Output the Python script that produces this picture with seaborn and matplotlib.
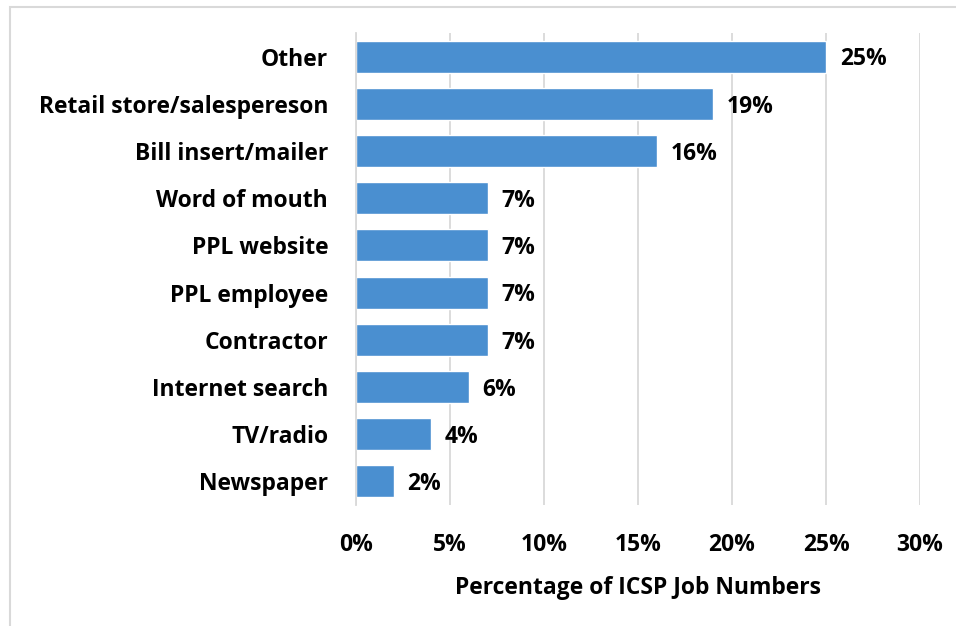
import matplotlib
matplotlib.use("Agg")
import matplotlib.pyplot as plt
from matplotlib.patches import Rectangle
import seaborn as sns
import pandas as pd

categories = ["Other", "Retail store/salespereson", "Bill insert/mailer", "Word of mouth",
              "PPL website", "PPL employee", "Contractor", "Internet search",
              "TV/radio", "Newspaper"]
values = [25, 19, 16, 7, 7, 7, 7, 6, 4, 2]
xticks = [0, 5, 10, 15, 20, 25, 30]
xlabel = "Percentage of ICSP Job Numbers"

sns.set_theme(style="white")
plt.rcParams["font.family"] = ["Open Sans", "DejaVu Sans"]
plt.rcParams["font.weight"] = "bold"

FS = 16.5

df = pd.DataFrame({"source": categories, "pct": values})

fig = plt.figure(figsize=(9.56, 6.26), dpi=100)
ax = fig.add_axes([0.3724, 0.1933, 0.59, 0.754])

sns.barplot(data=df, x="pct", y="source", color="#4A8FD0", saturation=1,
            width=0.68, ax=ax, zorder=2)

ax.set_xlim(0, 30)
ax.set_ylim(9.5, -0.5)
ax.set_xticks(xticks)
ax.set_xticklabels([f"{t}%" for t in xticks])
ax.xaxis.grid(True, color="#D9D9D9", linewidth=1.3, zorder=0)
ax.set_axisbelow(True)
for s in ["top", "right", "bottom"]:
    ax.spines[s].set_visible(False)
ax.spines["left"].set_color("#D9D9D9")
ax.spines["left"].set_linewidth(1.3)

ax.tick_params(axis="x", length=0, pad=20, labelsize=FS)
ax.tick_params(axis="y", length=0, pad=20, labelsize=FS)
for lbl in ax.get_xticklabels() + ax.get_yticklabels():
    lbl.set_fontweight("bold")
    lbl.set_color("black")

ax.set_ylabel("")
ax.set_xlabel(xlabel, fontsize=FS, fontweight="bold", color="black", labelpad=14)

for i, v in enumerate(values):
    ax.annotate(f"{v}%", xy=(v, i), xytext=(10, -2), textcoords="offset points",
                ha="left", va="center", fontsize=FS, fontweight="bold", color="black")

# light frame around the chart area
fig.patches.append(Rectangle((10 / 956, -0.05), 1.0, 1 - 7 / 626 + 0.05,
                             transform=fig.transFigure, fill=False,
                             edgecolor="#D9D9D9", linewidth=1.5))

fig.savefig("out.png", dpi=100, facecolor="white")
